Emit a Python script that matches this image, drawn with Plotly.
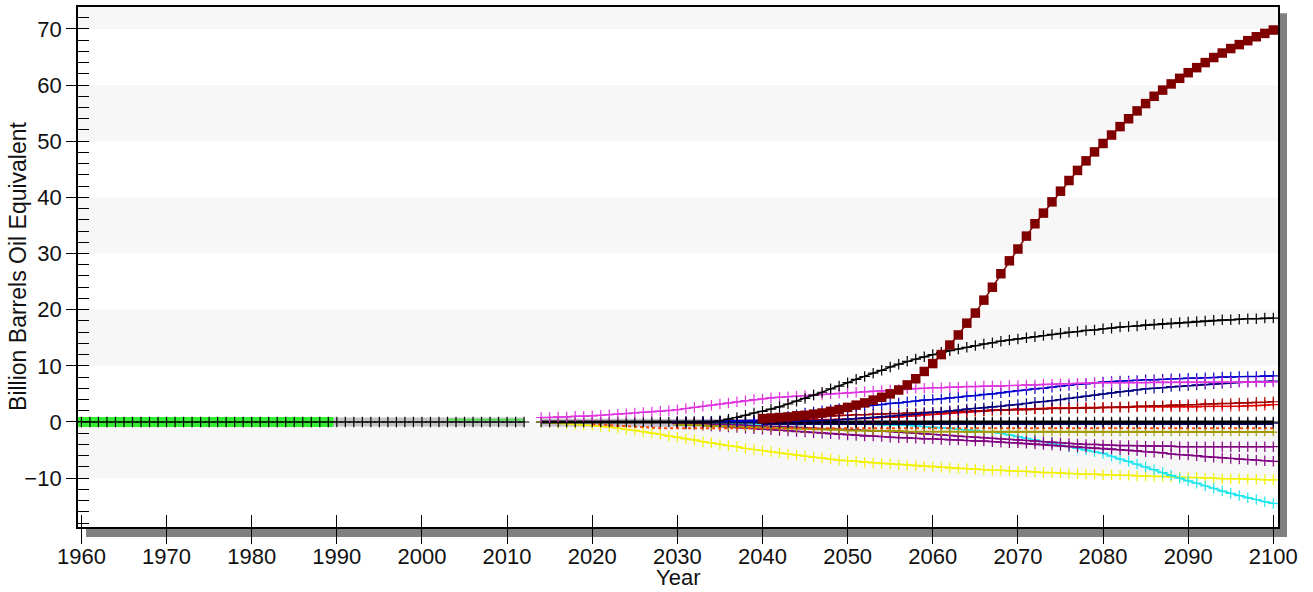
import plotly.graph_objects as go

# ---------------- data ----------------
HIST_YEARS = list(range(1960, 2013))          # 1960..2012
GREEN_YEARS = list(range(1960, 1990))         # 1960..1989
GRAY_YEARS = list(range(1989, 2013))          # 1989..2012
GREEN2_YEARS = list(range(2003, 2013))
FUT_YEARS = list(range(2014, 2101))           # 2014..2100
Y2030 = list(range(2030, 2101))
Y2040 = list(range(2040, 2101))
Y2020 = list(range(2020, 2101))
GRAYF_YEARS = list(range(2014, 2046))

hist_black = [
    0.0, 0.0, 0.0, 0.0, 0.0, 0.0, 0.0, 0.0, 0.0, 0.0,
    0.0, 0.0, 0.0, 0.0, 0.0, 0.0, 0.0, 0.0, 0.0, 0.0,
    0.0, 0.0, 0.0, 0.0, 0.0, 0.0, 0.0, 0.0, 0.0, 0.0,
    0.0, 0.0, 0.0, 0.0, 0.0, 0.0, 0.0, 0.0, 0.0, 0.0,
    0.0, 0.0, 0.0, 0.0, 0.0, 0.0, 0.0, 0.0, 0.0, 0.0,
    0.0, 0.0, 0.0]
hist_green = [
    0.0, 0.0, 0.0, 0.0, 0.0, 0.0, 0.0, 0.0, 0.0, 0.0,
    0.0, 0.0, 0.0, 0.0, 0.0, 0.0, 0.0, 0.0, 0.0, 0.0,
    0.0, 0.0, 0.0, 0.0, 0.0, 0.0, 0.0, 0.0, 0.0, 0.0]
hist_gray = [
    0.0, 0.0, 0.0, 0.0, 0.0, 0.0, 0.0, 0.0, 0.0, 0.0,
    0.0, 0.0, 0.0, 0.0, 0.0, 0.0, 0.0, 0.0, 0.0, 0.0,
    0.0, 0.0, 0.0, 0.0]
hist_green2 = [0.4, 0.4, 0.4, 0.4, 0.4, 0.4, 0.4, 0.4, 0.4, 0.4]

gray_future = [
    -0.1, -0.1, -0.1, -0.1, -0.1, -0.1, -0.1, -0.1, -0.1, -0.1,
    -0.1, -0.1, -0.2, -0.2, -0.2, -0.2, -0.2, -0.2, -0.2, -0.2,
    -0.2, -0.2, -0.2, -0.2, -0.2, -0.2, -0.2, -0.2, -0.2, -0.2,
    -0.2, -0.2]

black_zero = [
    0.0, 0.0, 0.0, 0.0, 0.0, 0.0, 0.0, 0.0, 0.0, 0.0,
    0.0, 0.0, 0.0, 0.0, 0.0, 0.0, 0.0, 0.0, 0.0, 0.0,
    0.0, 0.0, 0.0, 0.0, 0.0, 0.0, 0.0, 0.0, 0.0, 0.0,
    0.0, 0.0, 0.0, 0.0, 0.0, 0.0, 0.0, 0.0, 0.0, 0.0,
    0.0, 0.0, 0.0, 0.0, 0.0, 0.0, 0.0, 0.0, 0.0, 0.0,
    0.0, 0.0, 0.0, 0.0, 0.0, 0.0, 0.0, 0.0, 0.0, 0.0,
    0.0, 0.0, 0.0, 0.0, 0.0, 0.0, 0.0, 0.0, 0.0, 0.0,
    0.0, 0.0, 0.0, 0.0, 0.0, 0.0, 0.0, 0.0, 0.0, 0.0,
    0.0, 0.0, 0.0, 0.0, 0.0, 0.0, 0.0]

navy_zero = [
    -0.2, -0.2, -0.2, -0.2, -0.2, -0.2, -0.2, -0.2, -0.2, -0.2,
    -0.2, -0.2, -0.2, -0.2, -0.2, -0.2, -0.2, -0.2, -0.2, -0.2,
    -0.2, -0.2, -0.2, -0.2, -0.2, -0.2, -0.2, -0.2, -0.2, -0.2,
    -0.2, -0.2, -0.2, -0.2, -0.2, -0.2, -0.2, -0.2, -0.2, -0.2,
    -0.2, -0.2, -0.2, -0.2, -0.2, -0.2, -0.2, -0.2, -0.2, -0.2,
    -0.2, -0.2, -0.2, -0.2, -0.2, -0.2, -0.2, -0.2, -0.2, -0.2,
    -0.2]

orange_dotted = [
    -0.4, -0.5, -0.6, -0.7, -0.8, -0.9, -1.0, -1.0, -1.1, -1.1,
    -1.1, -1.1, -1.1, -1.1, -1.1, -1.1, -1.1, -1.1, -1.1, -1.1,
    -1.1, -1.1, -1.1, -1.1, -1.1, -1.1, -1.1, -1.1, -1.1, -1.1,
    -1.1, -1.1, -1.1, -1.1, -1.1, -1.1, -1.1, -1.1, -1.1, -1.1,
    -1.1, -1.1, -1.1, -1.1, -1.1, -1.1, -1.1, -1.1, -1.1, -1.1,
    -1.1, -1.1, -1.1, -1.1, -1.1, -1.1, -1.1, -1.1, -1.1, -1.1,
    -1.1, -1.1, -1.1, -1.1, -1.1, -1.1, -1.1, -1.1, -1.1, -1.1,
    -1.1, -1.1, -1.1, -1.1, -1.1, -1.1, -1.1, -1.1, -1.1, -1.1,
    -1.1]

olive = [
    -0.5, -0.5, -0.6, -0.6, -0.7, -0.7, -0.8, -0.8, -0.9, -0.9,
    -1.0, -1.0, -1.1, -1.1, -1.2, -1.2, -1.3, -1.3, -1.4, -1.4,
    -1.5, -1.5, -1.5, -1.6, -1.6, -1.6, -1.6, -1.7, -1.7, -1.7,
    -1.7, -1.7, -1.7, -1.7, -1.8, -1.8, -1.8, -1.8, -1.8, -1.8,
    -1.8, -1.8, -1.8, -1.8, -1.8, -1.8, -1.8, -1.8, -1.8, -1.8,
    -1.8, -1.8, -1.8, -1.8, -1.8, -1.8, -1.8, -1.8, -1.8, -1.8,
    -1.8, -1.8, -1.8, -1.8, -1.8, -1.8, -1.8, -1.8, -1.8, -1.8,
    -1.8]

dark_red_squares = [
    0.6, 0.7, 0.8, 0.9, 1.1, 1.2, 1.4, 1.6, 1.9, 2.2,
    2.6, 3.0, 3.4, 3.9, 4.4, 5.0, 5.7, 6.6, 7.7, 9.0,
    10.4, 12.0, 13.7, 15.5, 17.6, 19.4, 21.7, 24.0, 26.4, 28.7,
    30.8, 33.1, 35.3, 37.2, 39.2, 41.1, 43.0, 44.8, 46.5, 48.1,
    49.6, 51.1, 52.6, 54.0, 55.4, 56.7, 58.0, 59.1, 60.2, 61.2,
    62.2, 63.1, 64.0, 64.9, 65.7, 66.5, 67.2, 67.9, 68.6, 69.2, 69.8]

black_rising = [
    0.0, 0.0, 0.0, 0.0, 0.0, 0.2, 0.5, 0.8, 1.2, 1.6,
    1.9, 2.3, 2.7, 3.2, 3.7, 4.2, 4.8, 5.3, 5.9, 6.4,
    7.0, 7.6, 8.1, 8.7, 9.2, 9.8, 10.3, 10.8, 11.2, 11.6,
    12.0, 12.4, 12.7, 13.0, 13.3, 13.6, 13.9, 14.1, 14.4, 14.6,
    14.8, 15.0, 15.2, 15.4, 15.6, 15.8, 16.0, 16.1, 16.3, 16.4,
    16.6, 16.7, 16.9, 17.0, 17.1, 17.3, 17.4, 17.5, 17.6, 17.7,
    17.8, 17.9, 18.0, 18.1, 18.2, 18.2, 18.3, 18.4, 18.4, 18.5, 18.5]

magenta = [
    0.8, 0.8, 0.9, 0.9, 1.0, 1.0, 1.1, 1.2, 1.3, 1.4,
    1.5, 1.6, 1.7, 1.8, 1.9, 2.0, 2.2, 2.4, 2.6, 2.8,
    3.0, 3.2, 3.4, 3.6, 3.8, 4.0, 4.1, 4.3, 4.4, 4.5,
    4.6, 4.7, 4.8, 4.9, 5.0, 5.1, 5.2, 5.3, 5.4, 5.5,
    5.6, 5.7, 5.8, 5.9, 6.0, 6.0, 6.1, 6.1, 6.2, 6.2,
    6.3, 6.3, 6.4, 6.4, 6.4, 6.5, 6.5, 6.6, 6.6, 6.7,
    6.7, 6.8, 6.8, 6.9, 6.9, 7.0, 7.0, 7.0, 7.0, 7.0,
    7.0, 7.0, 7.1, 7.1, 7.1, 7.1, 7.1, 7.1, 7.1, 7.1,
    7.1, 7.1, 7.1, 7.1, 7.1, 7.1, 7.1]

blue = [
    0.0, 0.0, 0.0, 0.1, 0.1, 0.1, 0.2, 0.2, 0.2, 0.3,
    0.3, 0.5, 0.8, 1.0, 1.3, 1.6, 1.8, 2.0, 2.2, 2.4,
    2.5, 2.7, 2.8, 3.0, 3.1, 3.3, 3.4, 3.6, 3.7, 3.9,
    4.0, 4.1, 4.3, 4.4, 4.6, 4.7, 4.9, 5.0, 5.2, 5.4,
    5.6, 5.7, 5.9, 6.0, 6.2, 6.4, 6.5, 6.7, 6.8, 7.0,
    7.1, 7.2, 7.3, 7.3, 7.4, 7.5, 7.5, 7.6, 7.7, 7.7,
    7.8, 7.8, 7.9, 7.9, 8.0, 8.0, 8.1, 8.1, 8.1, 8.2, 8.2]

navy = [
    0.0, 0.0, 0.0, 0.0, 0.0, 0.0, 0.0, 0.0, 0.0, 0.0,
    0.0, 0.0, 0.1, 0.1, 0.1, 0.2, 0.2, 0.3, 0.3, 0.4,
    0.5, 0.6, 0.7, 0.8, 0.9, 1.0, 1.2, 1.3, 1.4, 1.6,
    1.7, 1.8, 2.0, 2.1, 2.3, 2.4, 2.5, 2.7, 2.8, 3.0,
    3.1, 3.3, 3.5, 3.6, 3.8, 4.0, 4.2, 4.4, 4.6, 4.8,
    5.0, 5.2, 5.4, 5.5, 5.7, 5.9, 6.0, 6.1, 6.3, 6.4,
    6.5, 6.6, 6.7, 6.8, 6.9, 7.0, 7.1, 7.1, 7.2, 7.2, 7.3]

red = [
    0.0, 0.0, 0.0, 0.0, 0.0, 0.1, 0.1, 0.1, 0.1, 0.1,
    0.2, 0.2, 0.2, 0.3, 0.3, 0.3, 0.4, 0.4, 0.4, 0.5,
    0.5, 0.6, 0.6, 0.7, 0.8, 0.8, 0.9, 1.0, 1.1, 1.3,
    1.4, 1.5, 1.6, 1.7, 1.8, 1.9, 2.0, 2.1, 2.2, 2.2,
    2.3, 2.3, 2.4, 2.4, 2.5, 2.5, 2.5, 2.5, 2.6, 2.6,
    2.6, 2.6, 2.6, 2.6, 2.7, 2.7, 2.7, 2.7, 2.7, 2.7,
    2.7, 2.7, 2.8, 2.8, 2.8, 2.8, 2.8, 2.9, 2.9, 3.0, 3.1]

dark_red_line = [
    0.3, 0.4, 0.5, 0.6, 0.7, 0.8, 0.9, 1.0, 1.1, 1.2,
    1.2, 1.3, 1.3, 1.4, 1.4, 1.5, 1.5, 1.6, 1.6, 1.7,
    1.7, 1.8, 1.8, 1.9, 1.9, 2.0, 2.0, 2.1, 2.1, 2.2,
    2.2, 2.2, 2.3, 2.3, 2.4, 2.4, 2.4, 2.5, 2.5, 2.5,
    2.6, 2.6, 2.7, 2.7, 2.8, 2.8, 2.9, 2.9, 3.0, 3.0,
    3.1, 3.1, 3.2, 3.2, 3.3, 3.3, 3.4, 3.4, 3.5, 3.5, 3.6]

purple_a = [
    -0.2, -0.2, -0.3, -0.3, -0.4, -0.4, -0.5, -0.5, -0.6, -0.7,
    -0.7, -0.8, -0.8, -0.9, -1.0, -1.0, -1.1, -1.2, -1.2, -1.3,
    -1.4, -1.4, -1.5, -1.6, -1.6, -1.7, -1.8, -1.9, -2.0, -2.1,
    -2.2, -2.3, -2.4, -2.5, -2.6, -2.7, -2.8, -2.9, -3.0, -3.1,
    -3.2, -3.3, -3.4, -3.5, -3.6, -3.7, -3.8, -3.9, -4.0, -4.0,
    -4.1, -4.1, -4.2, -4.2, -4.2, -4.3, -4.3, -4.3, -4.3, -4.4,
    -4.4, -4.4, -4.4, -4.4, -4.4, -4.4, -4.4, -4.4, -4.4, -4.4, -4.4]

purple_b = [
    -0.3, -0.4, -0.5, -0.6, -0.7, -0.8, -0.9, -1.0, -1.1, -1.2,
    -1.3, -1.4, -1.5, -1.6, -1.7, -1.8, -1.9, -2.0, -2.1, -2.2,
    -2.3, -2.4, -2.5, -2.5, -2.6, -2.7, -2.8, -2.8, -2.9, -3.0,
    -3.0, -3.1, -3.2, -3.2, -3.3, -3.4, -3.4, -3.5, -3.6, -3.7,
    -3.7, -3.8, -3.9, -4.0, -4.1, -4.2, -4.3, -4.4, -4.5, -4.6,
    -4.7, -4.8, -4.9, -5.0, -5.1, -5.3, -5.4, -5.5, -5.7, -5.8,
    -5.9, -6.0, -6.2, -6.3, -6.4, -6.5, -6.6, -6.7, -6.8, -6.9, -7.0]

cyan = [
    -0.3, -0.3, -0.3, -0.3, -0.3, -0.4, -0.4, -0.4, -0.4, -0.4,
    -0.4, -0.4, -0.4, -0.4, -0.4, -0.4, -0.4, -0.4, -0.4, -0.4,
    -0.4, -0.4, -0.4, -0.4, -0.5, -0.5, -0.5, -0.6, -0.7, -0.8,
    -0.9, -1.0, -1.1, -1.3, -1.4, -1.5, -1.7, -1.8, -2.0, -2.3,
    -2.6, -2.9, -3.2, -3.5, -3.8, -4.1, -4.4, -4.7, -5.0, -5.3,
    -5.6, -6.1, -6.6, -7.0, -7.5, -8.0, -8.5, -9.0, -9.5, -10.0,
    -10.5, -10.9, -11.4, -11.8, -12.3, -12.7, -13.1, -13.5, -13.8, -14.2, -14.5]

yellow = [
    0.0, -0.1, -0.2, -0.3, -0.4, -0.5, -0.6, -0.8, -0.9, -1.1,
    -1.3, -1.5, -1.7, -2.0, -2.2, -2.5, -2.7, -3.0, -3.2, -3.5,
    -3.7, -4.0, -4.2, -4.4, -4.7, -4.9, -5.1, -5.3, -5.5, -5.7,
    -5.9, -6.1, -6.3, -6.4, -6.6, -6.8, -6.9, -7.0, -7.2, -7.3,
    -7.4, -7.5, -7.6, -7.7, -7.8, -7.9, -8.0, -8.1, -8.2, -8.3,
    -8.3, -8.4, -8.5, -8.6, -8.6, -8.7, -8.8, -8.8, -8.9, -9.0,
    -9.0, -9.1, -9.2, -9.2, -9.3, -9.3, -9.4, -9.4, -9.5, -9.5,
    -9.6, -9.6, -9.7, -9.7, -9.8, -9.8, -9.9, -9.9, -10.0, -10.0,
    -10.1, -10.1, -10.1, -10.2, -10.2, -10.3, -10.3]

X_TICKS = [1960, 1970, 1980, 1990, 2000, 2010, 2020, 2030, 2040, 2050, 2060, 2070, 2080, 2090, 2100]
Y_TICKS = [-10, 0, 10, 20, 30, 40, 50, 60, 70]
BANDS = [(-10, 0), (10, 20), (30, 40), (50, 60), (70, 80)]
X_TITLE = "Year"
Y_TITLE = "Billion Barrels Oil Equivalent"

# ---------------- figure ----------------
XR = [1959.6, 2100.55]
YR = [-18.7, 73.9]
FONT = "Liberation Sans, Arial, sans-serif"
FS = 22

fig = go.Figure()


def add(x, y, color, symbol="cross-thin", size=7.5, lw=1.5, mlw=1.2, mode="lines+markers", dash="solid"):
    fig.add_trace(go.Scatter(
        x=x, y=y, mode=mode,
        line=dict(color=color, width=lw, dash=dash),
        marker=dict(symbol=symbol, size=size, color=color,
                    line=dict(color=color, width=mlw)),
        showlegend=False, hoverinfo="skip"))


# historical
add(GRAY_YEARS, hist_gray, "#c4c4c4", mode="lines", lw=9)
add(GRAYF_YEARS, gray_future, "#c8c0cc", mode="lines", lw=8)
add(GREEN_YEARS, hist_green, "#33ee33", symbol="square", size=10, lw=9, mlw=0)
add(GREEN2_YEARS, hist_green2, "#55dd55", mode="lines", lw=2)
add(HIST_YEARS, hist_black, "#000000", lw=1)

# future
add(FUT_YEARS, yellow, "#f2f200")
add(Y2030, cyan, "#1ee6ee")
add(Y2030, purple_b, "#800080")
add(Y2030, purple_a, "#800080")
add(Y2030, olive, "#a09a00", lw=2, size=6)
add(Y2020, orange_dotted, "#ff4400", mode="lines", lw=2, dash="dot")
add(Y2040, navy_zero, "#000066", lw=4)
add(FUT_YEARS, black_zero, "#000000", lw=3)
add(Y2030, red, "#ee0000")
add(Y2040, dark_red_line, "#a00000")
add(Y2030, navy, "#000080")
add(Y2030, blue, "#0000cc")
add(FUT_YEARS, magenta, "#e033e0")
add(Y2030, black_rising, "#000000")
add(Y2040, dark_red_squares, "#800000", symbol="square", size=9.5, lw=1.5, mlw=0)

# dummy traces for overlay axes (extra tick sets)
fig.add_trace(go.Scatter(x=[XR[0]], y=[YR[0]], xaxis="x2", yaxis="y2", mode="markers",
                         marker=dict(opacity=0), showlegend=False, hoverinfo="skip"))
fig.add_trace(go.Scatter(x=[XR[0]], y=[YR[0]], xaxis="x3", yaxis="y2", mode="markers",
                         marker=dict(opacity=0), showlegend=False, hoverinfo="skip"))

shapes = []
for y0, y1 in BANDS:
    shapes.append(dict(type="rect", xref="x domain", yref="y", x0=0, x1=1, y0=y0, y1=min(y1, YR[1]),
                       fillcolor="#f7f7f7", line=dict(width=0), layer="below"))
# drop shadow (right and bottom strips)
shapes.append(dict(type="rect", xref="paper", yref="paper", x0=1.0015, x1=1.0075, y0=-0.019, y1=0.988,
                   fillcolor="#808080", line=dict(width=0), layer="below"))
shapes.append(dict(type="rect", xref="paper", yref="paper", x0=0.0067, x1=1.0075, y0=-0.019, y1=-0.002,
                   fillcolor="#808080", line=dict(width=0), layer="below"))

annotations = [
    dict(text=X_TITLE, xref="paper", yref="paper", x=0.5, y=-0.098, xanchor="center", yanchor="middle",
         showarrow=False, font=dict(size=FS, family=FONT, color="#111111")),
    dict(text=Y_TITLE, xref="paper", yref="paper", x=-0.05, y=0.502, xanchor="center", yanchor="middle",
         textangle=-90, showarrow=False, font=dict(size=23, family=FONT, color="#111111")),
]

tick_common = dict(tickwidth=1.3, tickcolor="black", showline=False, showgrid=False, zeroline=False,
                   automargin=False, showticklabels=False)

fig.update_layout(
    width=1313, height=592,
    margin=dict(l=78, r=35, t=7, b=65, autoexpand=False),
    paper_bgcolor="white", plot_bgcolor="white",
    font=dict(family=FONT, size=FS, color="#111111"),
    showlegend=False,
    shapes=shapes,
    annotations=annotations,
    xaxis=dict(range=XR, tickvals=X_TICKS, ticks="outside", ticklen=9, tickwidth=1.3,
               tickcolor="black", showline=True, linecolor="black", linewidth=1.6, mirror=True,
               showgrid=False, zeroline=False, tickfont=dict(size=FS, family=FONT), automargin=False),
    yaxis=dict(range=YR, tickvals=Y_TICKS, ticks="outside", ticklen=10, tickwidth=1.3,
               tickcolor="black", showline=True, linecolor="black", linewidth=1.8, mirror=True,
               showgrid=False, zeroline=False, tickfont=dict(size=FS, family=FONT), automargin=False,
               minor=dict(dtick=2, tick0=0, ticks="inside", ticklen=11, tickwidth=1.2, tickcolor="black",
                          showgrid=False)),
    xaxis2=dict(range=XR, overlaying="x", anchor="y", side="bottom", tickvals=X_TICKS, ticks="outside",
                ticklen=16, **tick_common),
    xaxis3=dict(range=XR, overlaying="x", anchor="y", side="bottom", tickvals=X_TICKS, ticks="inside",
                ticklen=12, **tick_common),
    yaxis2=dict(range=YR, overlaying="y", anchor="x", side="left", tickvals=Y_TICKS, ticks="inside",
                ticklen=11, **tick_common),
)

fig.write_html("out.html", config={"displayModeBar": False},
               post_script="document.body.style.margin='0px';")
